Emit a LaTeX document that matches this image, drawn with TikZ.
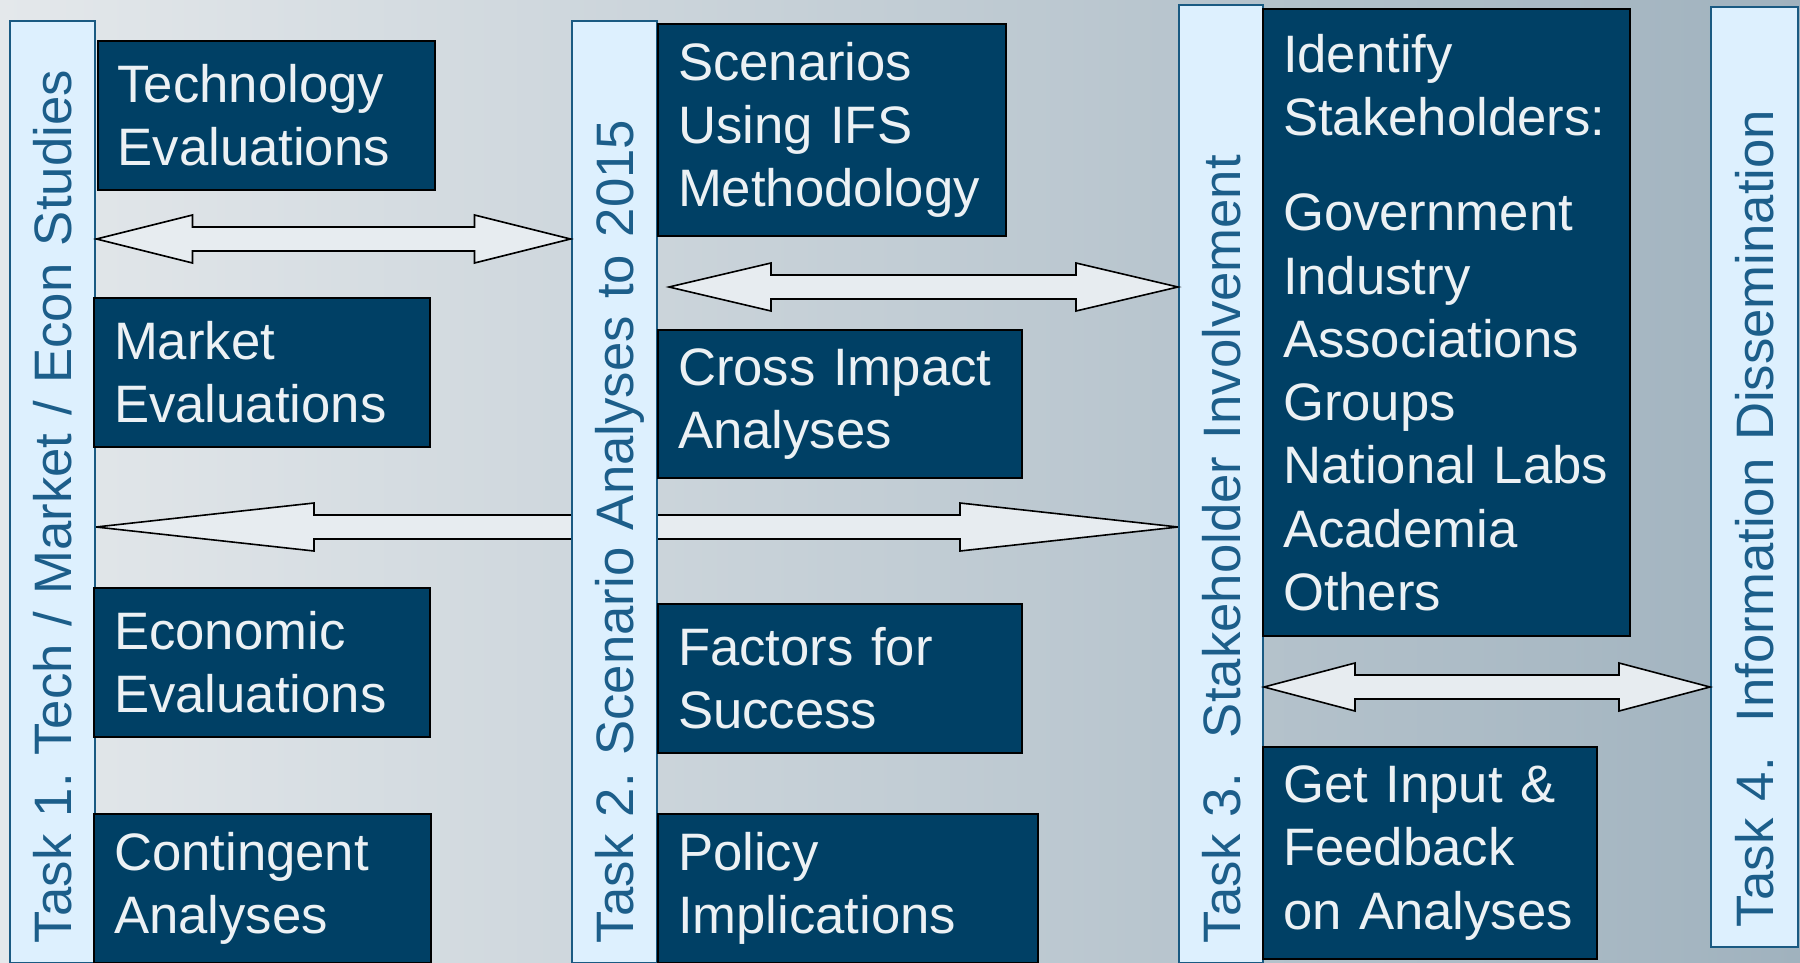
\documentclass[tikz,border=0pt]{standalone}
\usepackage{fontspec}
\setmainfont{Liberation Sans}
\usetikzlibrary{positioning,calc}
\frenchspacing

\definecolor{boxblue}{RGB}{0,64,101}
\definecolor{boxtext}{RGB}{236,241,244}
\definecolor{colfill}{RGB}{221,240,254}
\definecolor{coledge}{RGB}{26,90,130}
\definecolor{coltext}{RGB}{28,94,138}
\definecolor{arrowfill}{RGB}{231,236,240}
\definecolor{bgleft}{RGB}{228,232,235}
\definecolor{bgmid}{RGB}{202,210,216}
\definecolor{bgright}{RGB}{160,178,190}

\newcommand{\bigfont}{\fontsize{52.7pt}{63.3pt}\selectfont}
% block arrow with two heads: left end, right end, head length
\newcommand{\dblarrow}[3]{%
  \draw[blockarrow] (#1) -- ($(#1)+(#3,-24)$) -- ($(#1)+(#3,-12)$)
    -- ($(#2)+(-#3,-12)$) -- ($(#2)+(-#3,-24)$) -- (#2)
    -- ($(#2)+(-#3,24)$) -- ($(#2)+(-#3,12)$)
    -- ($(#1)+(#3,12)$) -- ($(#1)+(#3,24)$) -- cycle;}

\pgfdeclarelayer{background}
\pgfsetlayers{background,main}

\begin{document}
\begin{tikzpicture} [
                x=1pt, y=-1pt,
                taskcol/.style={
                    rectangle,
                    rotate=90,
                    anchor=north west,
                    draw=coledge,
                    line width=2pt,
                    fill=colfill,
                    text=coltext,
                    font=\bigfont,
                    inner xsep=20pt,
                    text height=38pt,
                    text depth=0pt,
                    align=left
                },
                taskbox/.style={
                    rectangle,
                    anchor=north west,
                    draw=black,
                    line width=2pt,
                    fill=boxblue,
                    text=boxtext,
                    font=\bigfont,
                    inner xsep=20pt,
                    align=left
                },
                blockarrow/.style={
                    draw=black,
                    line width=1.6pt,
                    fill=arrowfill
                }
            ]

                \useasboundingbox (0,0) rectangle (1800,962);
                \begin{pgfonlayer}{background}
                    \shade[left color=bgleft, middle color=bgmid, right color=bgright] (0,0) rectangle (1800,962);
                \end{pgfonlayer}

                % task columns
                \node[taskcol, minimum width=942pt, minimum height=85pt, text width=902pt]  (t1)  at (9,964)     {Task 1. Tech / Market / Econ Studies};
                \node[taskcol, minimum width=942pt, minimum height=85pt, text width=902pt]  (t2)  at (570.5,964) {Task 2. Scenario Analyses to 2015};
                \node[taskcol, minimum width=958pt, minimum height=84pt, text width=918pt]  (t3)  at (1178,964)  {Task 3.\ \ Stakeholder Involvement};
                \node[taskcol, minimum width=940pt, minimum height=87pt, text width=900pt]  (t4)  at (1710,948)  {Task 4.\ \ Information Dissemination};

                % task 1
                \node[taskbox, minimum width=337pt, minimum height=149pt, text width=297pt] (tech)    at (96.5,40)                                                  {Technology\\Evaluations};
                \node[taskbox, minimum width=336pt, minimum height=149pt, text width=296pt] (market)  [below=106pt of tech.south west, anchor=north west, xshift=-3.5pt] {Market\\Evaluations};
                \node[taskbox, minimum width=336pt, minimum height=149pt, text width=296pt] (econ)    [below=139pt of market.south west, anchor=north west]         {Economic\\Evaluations};
                \node[taskbox, minimum width=337pt, minimum height=149pt, text width=297pt] (conting) [below=75pt of econ.south west, anchor=north west]            {Contingent\\Analyses};

                % task 2
                \node[taskbox, minimum width=348pt, minimum height=212pt, text width=308pt] (scen)    at (657,23)                                                   {Scenarios\\Using IFS\\Methodology};
                \node[taskbox, minimum width=364pt, minimum height=148pt, text width=324pt] (cross)   [below=92pt of scen.south west, anchor=north west]            {Cross Impact\\Analyses};
                \node[taskbox, minimum width=364pt, minimum height=149pt, text width=324pt] (factors) [below=124pt of cross.south west, anchor=north west]          {Factors for\\Success};
                \node[taskbox, minimum width=380pt, minimum height=149pt, text width=340pt] (policy)  [below=59pt of factors.south west, anchor=north west]         {Policy\\Implications};

                % task 3
                \node[taskbox, minimum width=367pt, minimum height=627pt, text width=327pt] (stake)   at (1262,8)                                                   {Identify\\Stakeholders:\\[32pt]Government\\Industry\\Associations\\Groups\\National Labs\\Academia\\Others};
                \node[taskbox, minimum width=334pt, minimum height=212pt, text width=294pt] (input)   [below=109pt of stake.south west, anchor=north west]          {Get Input \&\\Feedback\\on Analyses};

                % arrows
                \coordinate (a1l) at (tech.west |- 0,239);
                \coordinate (a1r) at (t2.north |- 0,239);
                \coordinate (a2l) at (669,287);
                \coordinate (a2r) at (t3.north |- 0,287);
                \coordinate (a3l) at (t1.south |- 0,527);
                \coordinate (a3r) at (t3.north |- 0,527);
                \coordinate (a4l) at (t3.south |- 0,687);
                \coordinate (a4r) at (t4.north |- 0,687);

                \dblarrow{a1l}{a1r}{96}
                \dblarrow{a2l}{a2r}{102}
                \begin{pgfonlayer}{background}
                    \dblarrow{a3l}{a3r}{218}
                \end{pgfonlayer}
                \dblarrow{a4l}{a4r}{91}

            \end{tikzpicture}
\end{document}
